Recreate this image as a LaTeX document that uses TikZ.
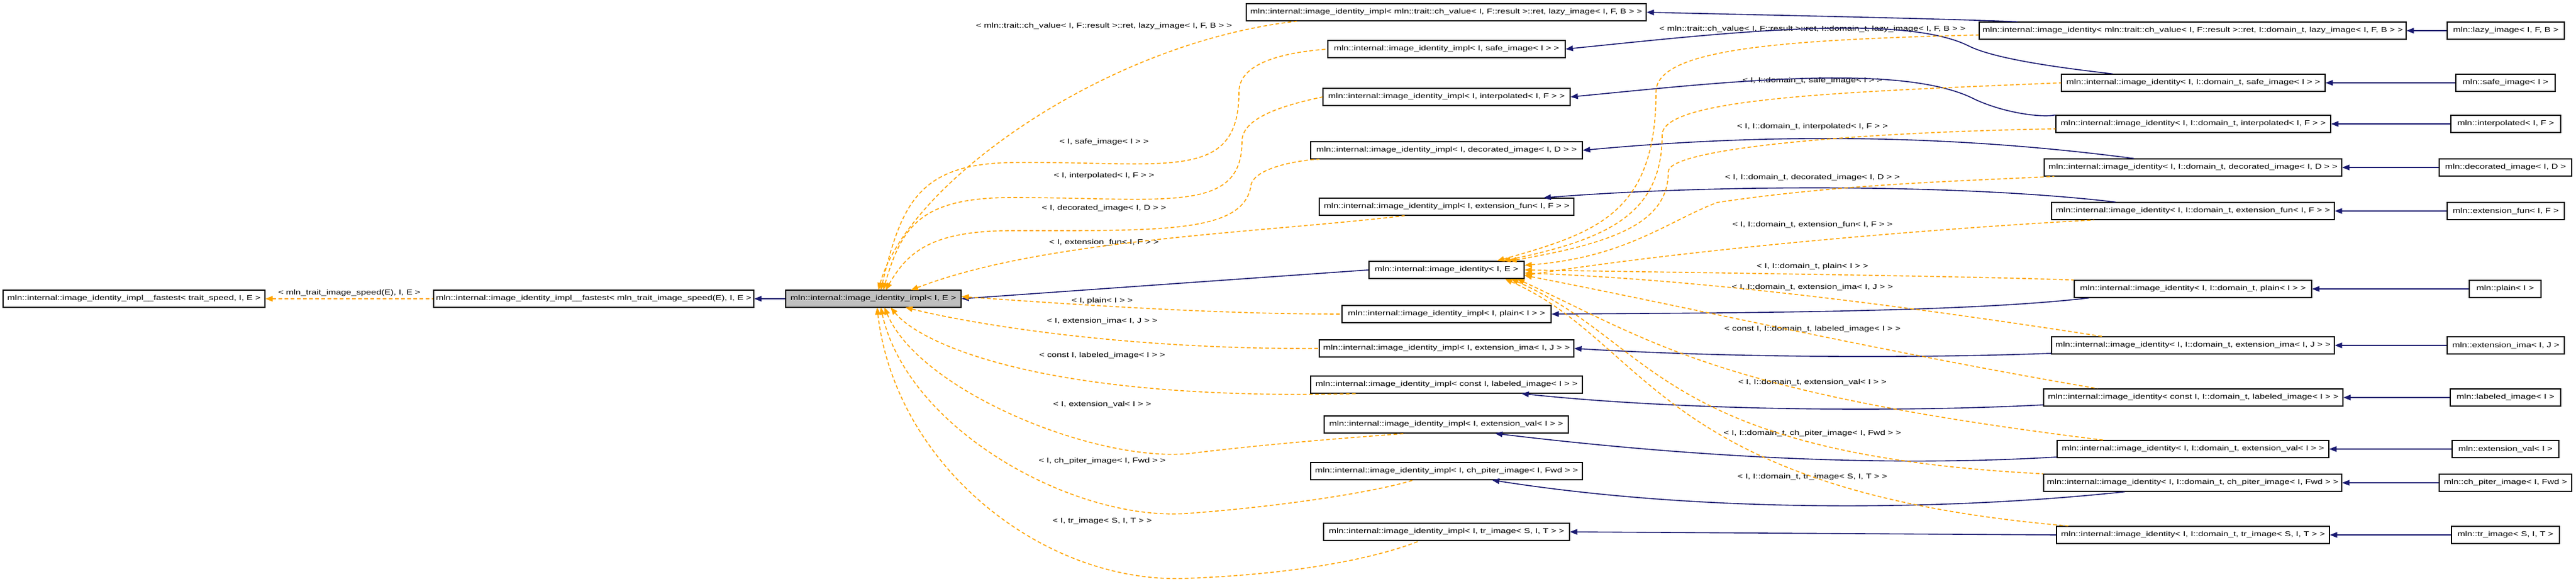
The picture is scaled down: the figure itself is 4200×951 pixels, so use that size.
\documentclass[tikz,border=0pt]{standalone}
\usepackage{fontspec}
\setmainfont{Liberation Sans}[FakeStretch=1.3]
\usetikzlibrary{arrows.meta}
\definecolor{navy}{HTML}{191970}
\definecolor{orng}{HTML}{FFA500}
\definecolor{gbox}{HTML}{BFBFBF}
\begin{document}
\begin{tikzpicture}[x=1pt,y=1pt,
  box/.style={draw=black,line width=1.2pt,minimum height=28pt,inner sep=0pt,font=\fontsize{11.5}{13}\selectfont,fill=white},
  lbl/.style={font=\fontsize{11.5}{13}\selectfont,inner sep=1pt},
  inh/.style={draw=navy,line width=1.6pt,arrows={Triangle[length=12pt,width=9pt]-}},
  tmpl/.style={draw=orng,line width=1.6pt,dash pattern=on 6pt off 4pt,arrows={Triangle[length=12pt,width=9pt]-}}]
\useasboundingbox (0,0) rectangle (4200,-951);
% left
\node[box,minimum width=427] (A) at (218.5,-487) {mln::internal::image\_identity\_impl\_\_fastest< trait\_speed, I, E >};
\node[box,minimum width=522] (B) at (968,-487) {mln::internal::image\_identity\_impl\_\_fastest< mln\_trait\_image\_speed(E), I, E >};
\node[box,minimum width=286,fill=gbox] (C) at (1424,-487) {mln::internal::image\_identity\_impl< I, E >};
% impl column
\node[box,minimum width=652] (iLazy) at (2358,-20) {mln::internal::image\_identity\_impl< mln::trait::ch\_value< I, F::result >::ret, lazy\_image< I, F, B > >};
\node[box,minimum width=387] (iSafe) at (2358.5,-80) {mln::internal::image\_identity\_impl< I, safe\_image< I > >};
\node[box,minimum width=403] (iInterp) at (2358.5,-158) {mln::internal::image\_identity\_impl< I, interpolated< I, F > >};
\node[box,minimum width=443] (iDec) at (2358.5,-245) {mln::internal::image\_identity\_impl< I, decorated\_image< I, D > >};
\node[box,minimum width=415] (iExtfun) at (2358.5,-337) {mln::internal::image\_identity\_impl< I, extension\_fun< I, F > >};
\node[box,minimum width=253] (idIE) at (2358.5,-440) {mln::internal::image\_identity< I, E >};
\node[box,minimum width=341] (iPlain) at (2358.5,-512) {mln::internal::image\_identity\_impl< I, plain< I > >};
\node[box,minimum width=415] (iExtima) at (2358.5,-568) {mln::internal::image\_identity\_impl< I, extension\_ima< I, J > >};
\node[box,minimum width=443] (iConst) at (2358.5,-627) {mln::internal::image\_identity\_impl< const I, labeled\_image< I > >};
\node[box,minimum width=398] (iExtval) at (2358,-692) {mln::internal::image\_identity\_impl< I, extension\_val< I > >};
\node[box,minimum width=443] (iChp) at (2358.5,-768) {mln::internal::image\_identity\_impl< I, ch\_piter\_image< I, Fwd > >};
\node[box,minimum width=401] (iTr) at (2358.5,-867) {mln::internal::image\_identity\_impl< I, tr\_image< S, I, T > >};
% identity column
\node[box,minimum width=696] (dLazy) at (3575,-50) {mln::internal::image\_identity< mln::trait::ch\_value< I, F::result >::ret, I::domain\_t, lazy\_image< I, F, B > >};
\node[box,minimum width=430] (dSafe) at (3576,-135) {mln::internal::image\_identity< I, I::domain\_t, safe\_image< I > >};
\node[box,minimum width=448] (dInterp) at (3576,-202) {mln::internal::image\_identity< I, I::domain\_t, interpolated< I, F > >};
\node[box,minimum width=485] (dDec) at (3575.5,-273) {mln::internal::image\_identity< I, I::domain\_t, decorated\_image< I, D > >};
\node[box,minimum width=461] (dExtfun) at (3575.5,-344) {mln::internal::image\_identity< I, I::domain\_t, extension\_fun< I, F > >};
\node[box,minimum width=387] (dPlain) at (3575.5,-471) {mln::internal::image\_identity< I, I::domain\_t, plain< I > >};
\node[box,minimum width=461] (dExtima) at (3575.5,-563) {mln::internal::image\_identity< I, I::domain\_t, extension\_ima< I, J > >};
\node[box,minimum width=488] (dConst) at (3576,-648) {mln::internal::image\_identity< const I, I::domain\_t, labeled\_image< I > >};
\node[box,minimum width=443] (dExtval) at (3575.5,-732) {mln::internal::image\_identity< I, I::domain\_t, extension\_val< I > >};
\node[box,minimum width=486] (dChp) at (3575,-787) {mln::internal::image\_identity< I, I::domain\_t, ch\_piter\_image< I, Fwd > >};
\node[box,minimum width=445] (dTr) at (3575.5,-872) {mln::internal::image\_identity< I, I::domain\_t, tr\_image< S, I, T > >};
% mln column
\node[box,minimum width=191] (mLazy) at (4085.5,-50) {mln::lazy\_image< I, F, B >};
\node[box,minimum width=162] (mSafe) at (4085,-135) {mln::safe\_image< I >};
\node[box,minimum width=179] (mInterp) at (4085.5,-202) {mln::interpolated< I, F >};
\node[box,minimum width=216] (mDec) at (4085,-273) {mln::decorated\_image< I, D >};
\node[box,minimum width=191] (mExtfun) at (4085.5,-344) {mln::extension\_fun< I, F >};
\node[box,minimum width=117] (mPlain) at (4084.5,-471) {mln::plain< I >};
\node[box,minimum width=191] (mExtima) at (4085.5,-563) {mln::extension\_ima< I, J >};
\node[box,minimum width=180] (mConst) at (4085,-648) {mln::labeled\_image< I >};
\node[box,minimum width=174] (mExtval) at (4085,-732) {mln::extension\_val< I >};
\node[box,minimum width=216] (mChp) at (4085,-787) {mln::ch\_piter\_image< I, Fwd >};
\node[box,minimum width=176] (mTr) at (4085,-872) {mln::tr\_image< S, I, T >};
% labels impl
\node[lbl] (l1) at (1800,-43) {< mln::trait::ch\_value< I, F::result >::ret, lazy\_image< I, F, B > >};
\node[lbl] (l2) at (1800,-232) {< I, safe\_image< I > >};
\node[lbl] (l3) at (1800,-287) {< I, interpolated< I, F > >};
\node[lbl] (l4) at (1800,-340) {< I, decorated\_image< I, D > >};
\node[lbl] (l5) at (1800,-395) {< I, extension\_fun< I, F > >};
\node[lbl] (l6) at (1797,-491) {< I, plain< I > >};
\node[lbl] (l7) at (1797,-523) {< I, extension\_ima< I, J > >};
\node[lbl] (l8) at (1797,-580) {< const I, labeled\_image< I > >};
\node[lbl] (l9) at (1797,-659) {< I, extension\_val< I > >};
\node[lbl] (l10) at (1797,-752) {< I, ch\_piter\_image< I, Fwd > >};
\node[lbl] (l11) at (1797,-850) {< I, tr\_image< S, I, T > >};
% labels identity
\node[lbl] (k1) at (2955,-48) {< mln::trait::ch\_value< I, F::result >::ret, I::domain\_t, lazy\_image< I, F, B > >};
\node[lbl] (k2) at (2955,-132) {< I, I::domain\_t, safe\_image< I > >};
\node[lbl] (k3) at (2955,-207) {< I, I::domain\_t, interpolated< I, F > >};
\node[lbl] (k4) at (2955,-290) {< I, I::domain\_t, decorated\_image< I, D > >};
\node[lbl] (k5) at (2955,-366) {< I, I::domain\_t, extension\_fun< I, F > >};
\node[lbl] (k6) at (2955,-435) {< I, I::domain\_t, plain< I > >};
\node[lbl] (k7) at (2955,-468) {< I, I::domain\_t, extension\_ima< I, J > >};
\node[lbl] (k8) at (2955,-537) {< const I, I::domain\_t, labeled\_image< I > >};
\node[lbl] (k9) at (2955,-623) {< I, I::domain\_t, extension\_val< I > >};
\node[lbl] (k10) at (2955,-707) {< I, I::domain\_t, ch\_piter\_image< I, Fwd > >};
\node[lbl] (k11) at (2955,-778) {< I, I::domain\_t, tr\_image< S, I, T > >};
% left edges
\draw[tmpl] (A.east) -- node[lbl,above=2pt]{< mln\_trait\_image\_speed(E), I, E >} (B.west);
\draw[inh] (B.east) -- (C.west);
\draw[inh] (C.east) -- (idIE.west);
% mln -> identity
\foreach \a/\b in {dLazy/mLazy,dSafe/mSafe,dInterp/mInterp,dDec/mDec,dExtfun/mExtfun,dPlain/mPlain,dExtima/mExtima,dConst/mConst,dExtval/mExtval,dChp/mChp,dTr/mTr}
  \draw[inh] (\a.east) -- (\b.west);
% identity -> impl (solid)
\draw[inh] (iLazy.east) .. controls (2900,-25) and (3150,-30) .. ([xshift=63pt]dLazy.north west);
\draw[inh] (iSafe.east) .. controls (2800,-55) and (3100,-20) .. (3210,-75) .. controls (3260,-100) and (3400,-115) .. ([xshift=84pt]dSafe.north west);
\draw[inh] (iInterp.east) .. controls (2800,-135) and (3100,-100) .. (3220,-162) .. controls (3270,-185) and (3330,-192) .. (dInterp.north west);
\draw[inh] (iDec.east) .. controls (2850,-220) and (3150,-215) .. ([xshift=147pt]dDec.north west);
\draw[inh] ([xshift=-50pt]iExtfun.north east) .. controls (2800,-300) and (3200,-300) .. ([xshift=105pt]dExtfun.north west);
\draw[inh] (iPlain.east) .. controls (2800,-510) and (3200,-510) .. ([xshift=25pt]dPlain.south west);
\draw[inh] (iExtima.east) .. controls (2800,-582) and (3100,-585) .. ([yshift=-13pt]dExtima.west);
\draw[inh] ([xshift=-100pt]iConst.south east) .. controls (2750,-670) and (3100,-672) .. ([yshift=-12pt]dConst.west);
\draw[inh] ([xshift=-120pt]iExtval.south east) .. controls (2800,-750) and (3100,-760) .. ([yshift=-13pt]dExtval.west);
\draw[inh] ([xshift=-148pt]iChp.south east) .. controls (2800,-840) and (3200,-830) .. ([xshift=133pt]dChp.south west);
\draw[inh] (iTr.east) -- (dTr.west);
% identity -> image_identity<I,E> (dashed)
\draw[tmpl] ([xshift=-45pt]idIE.north east) .. controls (2600,-380) and (2700,-350) .. (2700,-150) .. controls (2700,-80) and (2900,-65) .. ([yshift=-7pt]dLazy.west);
\draw[tmpl] ([xshift=-35pt]idIE.north east) .. controls (2620,-390) and (2710,-350) .. (2710,-220) .. controls (2710,-160) and (3000,-150) .. (dSafe.west);
\draw[tmpl] ([xshift=-25pt]idIE.north east) .. controls (2640,-395) and (2720,-360) .. (2720,-280) .. controls (2720,-240) and (3050,-215) .. ([yshift=-8pt]dInterp.west);
\draw[tmpl] ([yshift=-7pt]idIE.north east) .. controls (2650,-420) and (2720,-360) .. (2800,-330) .. controls (3000,-300) and (3200,-295) .. ([xshift=17pt]dDec.south west);
\draw[tmpl] ([yshift=-9pt]idIE.east) .. controls (2800,-400) and (3200,-370) .. ([xshift=70pt]dExtfun.south west);
\draw[tmpl] (idIE.east) .. controls (2800,-445) and (3200,-450) .. (dPlain.north west);
\draw[tmpl] ([yshift=-5pt]idIE.east) .. controls (2750,-455) and (3050,-490) .. ([xshift=83pt]dExtima.north west);
\draw[tmpl] ([yshift=-9pt]idIE.east) .. controls (2750,-500) and (3050,-570) .. ([xshift=88pt]dConst.north west);
\draw[tmpl] ([xshift=-12pt]idIE.south east) .. controls (2700,-560) and (2800,-640) .. ([xshift=76pt]dExtval.north west);
\draw[tmpl] ([xshift=-22pt]idIE.south east) .. controls (2700,-560) and (2700,-740) .. (dChp.north west);
\draw[tmpl] ([xshift=-32pt]idIE.south east) .. controls (2690,-560) and (2700,-800) .. ([xshift=20pt]dTr.north west);
% impl -> C (dashed)
\draw[tmpl] (1432,-473) .. controls (1480,-300) and (1800,-70) .. ([xshift=83pt]iLazy.south west);
\draw[tmpl] (1436,-473) .. controls (1470,-330) and (1500,-267) .. (1650,-265) .. controls (1900,-262) and (2020,-300) .. (2020,-150) .. controls (2020,-100) and (2100,-85) .. (iSafe.west);
\draw[tmpl] (1440,-473) .. controls (1470,-370) and (1500,-322) .. (1650,-322) .. controls (1900,-322) and (2025,-350) .. (2025,-230) .. controls (2025,-190) and (2100,-170) .. (iInterp.west);
\draw[tmpl] (1444,-473) .. controls (1480,-410) and (1520,-376) .. (1650,-376) .. controls (1900,-376) and (2030,-380) .. (2040,-300) .. controls (2050,-270) and (2130,-260) .. ([xshift=15pt]iDec.south west);
\draw[tmpl] (1485,-473) .. controls (1700,-390) and (2050,-380) .. ([xshift=140pt]iExtfun.south west);
\draw[tmpl] ([yshift=-11pt]C.north east) .. controls (1800,-500) and (2000,-512) .. (iPlain.west);
\draw[tmpl] (1476,-501) .. controls (1550,-520) and (1800,-570) .. (iExtima.west);
\draw[tmpl] (1452,-501) .. controls (1500,-560) and (1700,-655) .. ([xshift=78pt]iConst.south west);
\draw[tmpl] (1442,-501) .. controls (1500,-640) and (1800,-760) .. (1950,-738) .. controls (2100,-720) and (2250,-710) .. ([xshift=134pt]iExtval.south west);
\draw[tmpl] (1436,-501) .. controls (1480,-700) and (1750,-850) .. (1935,-837) .. controls (2100,-825) and (2250,-800) .. ([xshift=168pt]iChp.south west);
\draw[tmpl] (1430,-501) .. controls (1460,-760) and (1700,-950) .. (1930,-943) .. controls (2150,-935) and (2270,-900) .. ([xshift=157pt]iTr.south west);
\end{tikzpicture}
\end{document}
